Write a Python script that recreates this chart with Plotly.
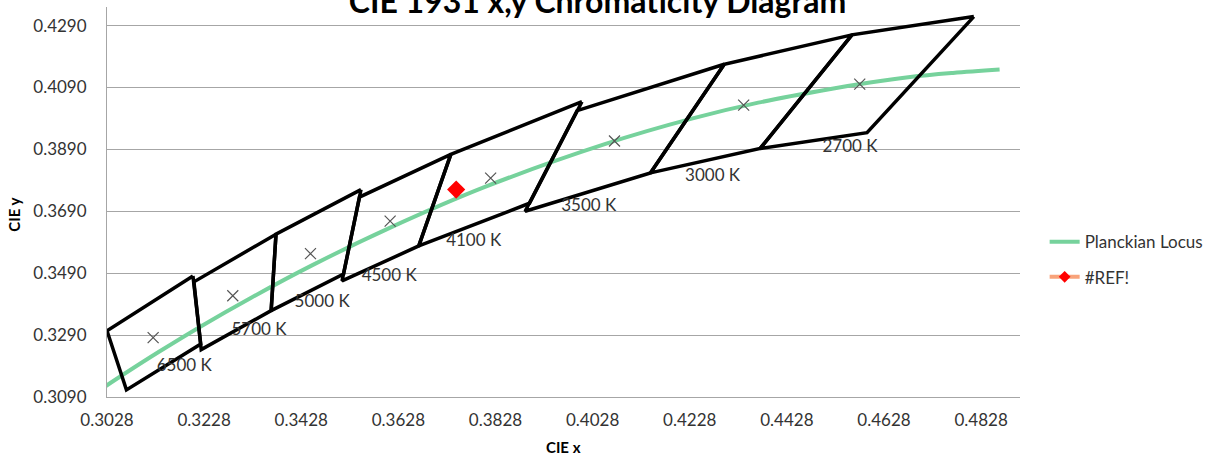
import plotly.graph_objects as go

# ---- data ----
cct_labels = ["2700 K", "3000 K", "3500 K", "4100 K", "4500 K", "5000 K", "5700 K", "6500 K"]

# quadrangle corners (x list, y list), closed
quad_x = [
    [0.4813, 0.4562, 0.4373, 0.4593, 0.4813],
    [0.4562, 0.4299, 0.4147, 0.4373, 0.4562],
    [0.4299, 0.3996, 0.3889, 0.4147, 0.4299],
    [0.4006, 0.3736, 0.3670, 0.3898, 0.4006],
    [0.3736, 0.3548, 0.3512, 0.3670, 0.3736],
    [0.3551, 0.3376, 0.3366, 0.3515, 0.3551],
    [0.3376, 0.3207, 0.3222, 0.3366, 0.3376],
    [0.3205, 0.3028, 0.3068, 0.3221, 0.3205],
]
quad_y = [
    [0.4319, 0.4260, 0.3893, 0.3944, 0.4319],
    [0.4260, 0.4165, 0.3814, 0.3893, 0.4260],
    [0.4165, 0.4015, 0.3690, 0.3814, 0.4165],
    [0.4044, 0.3874, 0.3578, 0.3716, 0.4044],
    [0.3874, 0.3736, 0.3465, 0.3578, 0.3874],
    [0.3760, 0.3616, 0.3369, 0.3487, 0.3760],
    [0.3616, 0.3462, 0.3243, 0.3369, 0.3616],
    [0.3481, 0.3304, 0.3113, 0.3261, 0.3481],
]

# quadrangle centre points (x marks)
center_x = [0.4578, 0.4339, 0.4073, 0.3818, 0.3611, 0.3447, 0.3287, 0.3123]
center_y = [0.4101, 0.4033, 0.3917, 0.3797, 0.3658, 0.3553, 0.3417, 0.3282]

# label positions
label_x = [0.4558, 0.4275, 0.4020, 0.3783, 0.3609, 0.3471, 0.3341, 0.3187]
label_y = [0.3896, 0.3803, 0.3706, 0.3590, 0.3477, 0.3396, 0.3303, 0.3187]

# Planckian locus
locus_x = [0.4866, 0.4770, 0.4682, 0.4599, 0.4521, 0.4369, 0.4234, 0.4053, 0.3805,
           0.3608, 0.3451, 0.3324, 0.3221, 0.3135, 0.3064, 0.3004]
locus_y = [0.4148, 0.4137, 0.4124, 0.4106, 0.4086, 0.4041, 0.3990, 0.3907, 0.3768,
           0.3635, 0.3516, 0.3410, 0.3318, 0.3236, 0.3165, 0.3103]

# measured point
ref_x = [0.3747]
ref_y = [0.3760]

x_ticks = [0.3028, 0.3228, 0.3428, 0.3628, 0.3828, 0.4028, 0.4228, 0.4428, 0.4628, 0.4828]
y_ticks = [0.3090, 0.3290, 0.3490, 0.3690, 0.3890, 0.4090, 0.4290]

FONT = "Lato"
TXT = "#333333"

fig = go.Figure()

fig.add_trace(go.Scatter(
    x=locus_x, y=locus_y, mode="lines", name="Planckian Locus",
    line=dict(color="#76D29C", width=4, shape="spline"),
    legendgroup="a", showlegend=True,
))

for qx, qy in zip(quad_x, quad_y):
    fig.add_trace(go.Scatter(
        x=qx, y=qy, mode="lines", line=dict(color="black", width=3.5),
        showlegend=False, hoverinfo="skip",
    ))

fig.add_trace(go.Scatter(
    x=center_x, y=center_y, mode="markers",
    marker=dict(symbol="x-thin-open", size=11, color="#555555",
                line=dict(color="#555555", width=1.2)),
    showlegend=False,
))

fig.add_trace(go.Scatter(
    x=label_x, y=label_y, mode="text", text=cct_labels,
    textfont=dict(family=FONT, size=17, color=TXT),
    showlegend=False, hoverinfo="skip",
))

fig.add_trace(go.Scatter(
    x=ref_x, y=ref_y, mode="markers",
    marker=dict(symbol="diamond", size=14, color="#FF0000"),
    showlegend=False,
))
# legend entry for #REF!
fig.add_trace(go.Scatter(
    x=[None], y=[None], mode="lines+markers", name="#REF!",
    line=dict(color="#F8A37A", width=4),
    marker=dict(symbol="diamond", size=9, color="#FF0000"),
    legendgroup="b", showlegend=True,
))

fig.update_layout(
    width=1212, height=457,
    margin=dict(l=107, r=192, t=7, b=60, autoexpand=False),
    paper_bgcolor="white", plot_bgcolor="white",
    font=dict(family=FONT, size=17, color=TXT),
    title=dict(text="<b>CIE 1931 x,y Chromaticity Diagram</b>",
               x=0.493, xanchor="center", y=0.9953, yanchor="middle",
               xref="container", yref="container",
               font=dict(family=FONT, size=32, color="black")),
    xaxis=dict(range=[0.3028, 0.4908], tickvals=x_ticks,
               ticktext=[f"{v:.4f}" for v in x_ticks],
               showgrid=False, zeroline=False, showline=True,
               linecolor="#A6A6A6", linewidth=1, ticks="",
               tickfont=dict(family=FONT, size=17, color=TXT),
               ticklabelstandoff=8),
    yaxis=dict(range=[0.309, 0.435], tickvals=y_ticks,
               ticktext=[f"{v:.4f}" for v in y_ticks],
               showgrid=True, gridcolor="#A6A6A6", gridwidth=1,
               zeroline=False, showline=True,
               linecolor="#A6A6A6", linewidth=1, ticks="",
               tickfont=dict(family=FONT, size=17, color=TXT),
               ticklabelstandoff=16),
    legend=dict(x=1.027, xanchor="left", y=0.352, yanchor="middle",
                font=dict(family=FONT, size=17, color=TXT),
                tracegroupgap=10, bgcolor="rgba(0,0,0,0)"),
    annotations=[
        dict(text="<b>CIE x</b>", x=0.5, y=-0.128, xref="paper", yref="paper",
             showarrow=False, xanchor="center", yanchor="middle",
             font=dict(family=FONT, size=15, color="black")),
        dict(text="<b>CIE y</b>", x=-0.102, y=0.467, xref="paper", yref="paper",
             showarrow=False, textangle=-90, xanchor="center", yanchor="middle",
             font=dict(family=FONT, size=15, color="black")),
    ],
)

fig.write_html("out.html",
               config={"displayModeBar": False},
               post_script="document.body.style.margin='0';document.body.style.overflow='hidden';")
